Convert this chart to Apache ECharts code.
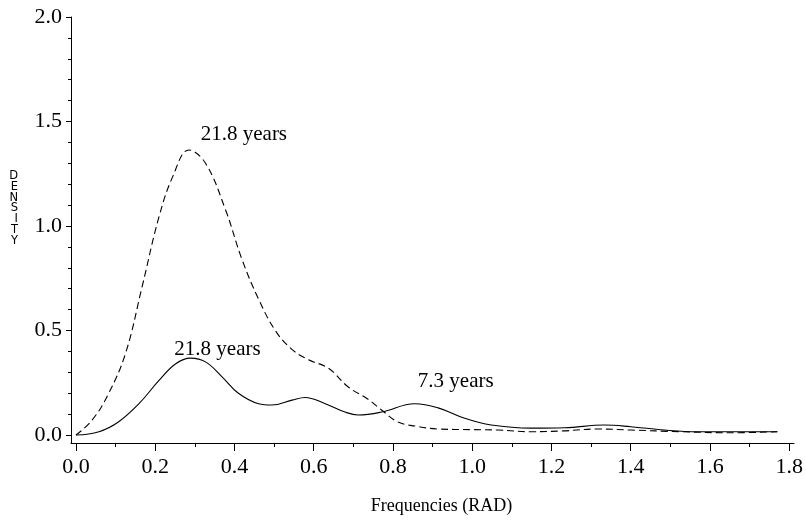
<!DOCTYPE html>
<html><head><meta charset="utf-8">
<script src="https://cdn.jsdelivr.net/npm/echarts@6/dist/echarts.min.js"></script>
<style>html,body{margin:0;padding:0;background:#fff}#c{width:806px;height:527px}</style>
</head><body><div id="c"></div>
<script>
// Dashed curve (larger spectrum)
const dashedX = [0, 0.04, 0.08, 0.125, 0.167, 0.209, 0.245, 0.285, 0.327, 0.377, 0.419, 0.461, 0.503, 0.545, 0.587, 0.637, 0.687, 0.738, 0.771, 0.813, 0.856, 0.914, 1.0, 1.065, 1.148, 1.23, 1.317, 1.40, 1.526, 1.652, 1.77];
const dashedY = [0, 0.07, 0.19, 0.39, 0.71, 1.04, 1.24, 1.364, 1.30, 1.08, 0.84, 0.65, 0.50, 0.41, 0.36, 0.32, 0.23, 0.17, 0.12, 0.062, 0.043, 0.029, 0.026, 0.024, 0.016, 0.02, 0.029, 0.024, 0.016, 0.011, 0.016];
// Solid curve (smaller spectrum)
const solidX = [0, 0.058, 0.108, 0.159, 0.209, 0.251, 0.289, 0.327, 0.368, 0.41, 0.461, 0.494, 0.545, 0.578, 0.629, 0.679, 0.712, 0.771, 0.855, 0.914, 0.981, 1.048, 1.148, 1.233, 1.334, 1.40, 1.485, 1.568, 1.77];
const solidY = [0, 0.016, 0.064, 0.15, 0.26, 0.34, 0.368, 0.35, 0.28, 0.2, 0.15, 0.144, 0.167, 0.18, 0.15, 0.11, 0.096, 0.11, 0.15, 0.13, 0.08, 0.048, 0.033, 0.035, 0.048, 0.04, 0.024, 0.016, 0.016];
// Annotations
const dashedNoteText = ['21.8 years'];
const dashedNoteX = [0.285];
const dashedNoteY = [1.364];
const solidNoteText = ['21.8 years', '7.3 years'];
const solidNoteX = [0.289, 0.855];
const solidNoteY = [0.368, 0.15];
// Ticks
const xMajorTicks = [0, 0.2, 0.4, 0.6, 0.8, 1.0, 1.2, 1.4, 1.6, 1.8];
const xMinorTicks = [0.1, 0.3, 0.5, 0.7, 0.9, 1.1, 1.3, 1.5, 1.7];
const yMajorTicks = [0, 0.5, 1.0, 1.5, 2.0];
const yMinorTicks = [0.1, 0.2, 0.3, 0.4, 0.6, 0.7, 0.8, 0.9, 1.1, 1.2, 1.3, 1.4, 1.6, 1.7, 1.8, 1.9];
const yAxisTitle = ['D', 'E', 'N', 'S', 'I', 'T', 'Y'];

const SERIF = '"Liberation Serif", "Times New Roman", serif';
const zip = (xs, ys) => xs.map((x, i) => [x, ys[i]]);
const notes = (t, xs, ys, offs) => t.map((s, i) => ({
  coord: [xs[i], ys[i]], value: s,
  label: { offset: offs[i] }
}));

const X_MIN = -0.0125, X_MAX = 1.812, Y_MIN = -0.038, Y_MAX = 2.0;

const chart = echarts.init(document.getElementById('c'));
chart.setOption({
  animation: false,
  backgroundColor: '#fff',
  grid: { left: 71, right: 8, top: 17, bottom: 84 },
  xAxis: [{
    type: 'value', min: X_MIN, max: X_MAX,
    axisLine: { show: true, onZero: false, lineStyle: { color: '#000', width: 1 } },
    axisTick: { show: true, customValues: xMajorTicks, length: 8, lineStyle: { color: '#000' } },
    axisLabel: { customValues: xMajorTicks, formatter: v => v.toFixed(1), fontFamily: SERIF, fontSize: 22, color: '#000', margin: 13 },
    splitLine: { show: false },
    name: 'Frequencies (RAD)', nameLocation: 'middle', nameGap: 54,
    nameTextStyle: { fontFamily: SERIF, fontSize: 18, color: '#000', padding: [0, 0, 0, 18] }
  }, {
    type: 'value', min: X_MIN, max: X_MAX, position: 'bottom',
    axisLine: { show: false, onZero: false },
    axisTick: { show: true, customValues: xMinorTicks, length: 4, lineStyle: { color: '#000' } },
    axisLabel: { show: false }, splitLine: { show: false }
  }],
  yAxis: [{
    type: 'value', min: Y_MIN, max: Y_MAX,
    axisLine: { show: true, onZero: false, lineStyle: { color: '#000', width: 1 } },
    axisTick: { show: true, customValues: yMajorTicks, length: 5, lineStyle: { color: '#000' } },
    axisLabel: { customValues: yMajorTicks, formatter: v => v.toFixed(1), fontFamily: SERIF, fontSize: 22, color: '#000', margin: 9 },
    splitLine: { show: false },
    name: yAxisTitle.join('\n') + '\n\u00a0\n\u00a0\n\u00a0\n\u00a0', nameLocation: 'middle', nameRotate: 0, nameGap: 53,
    nameTextStyle: { fontFamily: '"DejaVu Sans", sans-serif', fontSize: 11.5, lineHeight: 10.8, color: '#000' }
  }, {
    type: 'value', min: Y_MIN, max: Y_MAX, position: 'left',
    axisLine: { show: false, onZero: false },
    axisTick: { show: true, customValues: yMinorTicks, length: 3, lineStyle: { color: '#000' } },
    axisLabel: { show: false }, splitLine: { show: false }
  }],
  series: [{
    type: 'line', xAxisIndex: 0, yAxisIndex: 0,
    data: zip(dashedX, dashedY), showSymbol: false, symbol: 'none',
    smooth: 0.4,
    lineStyle: { color: '#000', width: 1.1, type: [7, 4] },
    markPoint: {
      symbol: 'circle', symbolSize: 1, itemStyle: { color: 'rgba(0,0,0,0)' },
      label: { show: true, position: 'inside', formatter: p => p.value, fontFamily: SERIF, fontSize: 21, color: '#000' },
      data: notes(dashedNoteText, dashedNoteX, dashedNoteY, [[55, -15]])
    }
  }, {
    type: 'line', xAxisIndex: 0, yAxisIndex: 0,
    data: zip(solidX, solidY), showSymbol: false, symbol: 'none',
    smooth: 0.4,
    lineStyle: { color: '#000', width: 1.1 },
    markPoint: {
      symbol: 'circle', symbolSize: 1, itemStyle: { color: 'rgba(0,0,0,0)' },
      label: { show: true, position: 'inside', formatter: p => p.value, fontFamily: SERIF, fontSize: 21, color: '#000' },
      data: notes(solidNoteText, solidNoteX, solidNoteY, [[27, -9], [41, -22]])
    }
  }]
});
</script>
</body></html>
